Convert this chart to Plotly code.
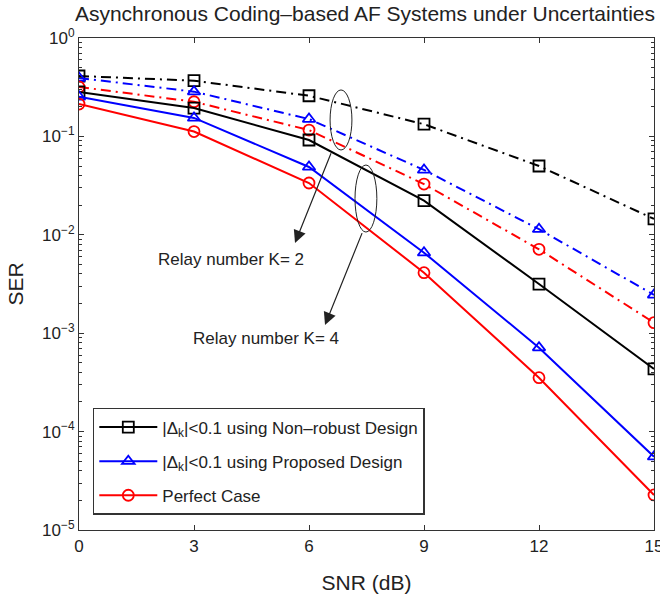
import plotly.graph_objects as go

snr = [0, 3, 6, 9, 12, 15]

# K = 2 (dash-dot)
k2_nonrobust = [0.411, 0.368, 0.259, 0.133, 0.050, 0.0145]
k2_proposed = [0.392, 0.285, 0.150, 0.0456, 0.0114, 0.00245]
k2_perfect = [0.318, 0.225, 0.116, 0.0328, 0.00712, 0.00128]

# K = 4 (solid)
k4_nonrobust = [0.283, 0.194, 0.0919, 0.0222, 0.00316, 0.000433]
k4_proposed = [0.253, 0.154, 0.0489, 0.00658, 0.000713, 0.0000556]
k4_perfect = [0.213, 0.112, 0.0336, 0.00412, 0.000353, 0.0000227]

labels = ["|Δ<sub>k</sub>|<0.1 using Non–robust Design",
          "|Δ<sub>k</sub>|<0.1 using Proposed Design",
          "Perfect Case"]
colors = ["#000000", "#0000ff", "#ff0000"]
symbols = ["square-open", "triangle-up-open", "circle-open"]

x_ticks = [0, 3, 6, 9, 12, 15]
y_tickvals = [1e-5, 1e-4, 1e-3, 1e-2, 1e-1, 1e0]
y_ticktext = ["10<sup>−5</sup>", "10<sup>−4</sup>", "10<sup>−3</sup>",
              "10<sup>−2</sup>", "10<sup>−1</sup>", "10<sup>0</sup>"]

title_text = "Asynchronous Coding–based AF Systems under Uncertainties"
ann1 = "Relay number K= 2"
ann2 = "Relay number K= 4"

FONT = "Liberation Sans, Arial, sans-serif"
DASHDOT = "10px,5px,2px,5px"

fig = go.Figure()

for i, ys in enumerate([k2_nonrobust, k2_proposed, k2_perfect]):
    fig.add_trace(go.Scatter(
        x=snr, y=ys, mode="lines+markers", showlegend=False,
        line=dict(color=colors[i], width=2, dash=DASHDOT),
        marker=dict(symbol=symbols[i], size=11, color=colors[i],
                    line=dict(width=1.8, color=colors[i])),
    ))

for i, ys in enumerate([k4_nonrobust, k4_proposed, k4_perfect]):
    fig.add_trace(go.Scatter(
        x=snr, y=ys, mode="lines+markers", name=labels[i],
        legendgroup=f"g{i}",
        line=dict(color=colors[i], width=2),
        marker=dict(symbol=symbols[i], size=11, color=colors[i],
                    line=dict(width=1.8, color=colors[i])),
    ))

minor_vals = []
for e in range(-5, 0):
    for m in range(2, 10):
        minor_vals.append(m * 10 ** e)

fig.update_layout(
    width=660, height=601,
    margin=dict(l=79, r=6, t=38, b=71, autoexpand=False),
    paper_bgcolor="white", plot_bgcolor="white",
    font=dict(family=FONT, size=17, color="#222"),
    title=dict(text=title_text, x=0.553, xanchor="center", y=0.978,
               yanchor="middle", font=dict(size=21, family=FONT, color="#222")),
    legend=dict(x=0.024, y=0.248, xanchor="left", yanchor="top",
                bgcolor="white", bordercolor="#333", borderwidth=1.5,
                font=dict(size=17, family=FONT, color="#222"),
                itemwidth=58,
                traceorder="grouped", tracegroupgap=9),
    xaxis=dict(range=[0, 15], tickvals=x_ticks, ticks="inside", ticklen=5,
               showgrid=False, zeroline=False, showline=True, linecolor="#333",
               linewidth=1.2, mirror="ticks", tickcolor="#333", automargin=False,
               tickfont=dict(size=17), ticklabeloverflow="allow",
               title=dict(text="SNR (dB)", font=dict(size=21), standoff=20)),
    yaxis=dict(type="log", range=[-5, 0], tickvals=y_tickvals, ticktext=y_ticktext,
               ticks="inside", ticklen=5, showgrid=False, zeroline=False,
               showline=True, linecolor="#333", linewidth=1.2, mirror="ticks",
               tickcolor="#333", tickfont=dict(size=17), automargin=False,
               minor=dict(tickvals=minor_vals, ticks="inside", ticklen=3,
                          tickcolor="#333", showgrid=False),
               title=dict(text="SER", font=dict(size=21), standoff=12)),
)

# ellipses (grouping markers)
fig.add_shape(type="circle", xref="x", yref="y", x0=6.55, x1=7.12,
              y0=10 ** -1.138, y1=10 ** -0.528, line=dict(color="#222", width=1))
fig.add_shape(type="circle", xref="x", yref="y", x0=7.20, x1=7.77,
              y0=10 ** -1.972, y1=10 ** -1.291, line=dict(color="#222", width=1))

# arrows
fig.add_annotation(x=5.635, y=-2.083, ax=6.59, ay=-1.156, xref="x", yref="y",
                   axref="x", ayref="y", showarrow=True, arrowhead=2,
                   arrowsize=2.1, arrowwidth=1.2, arrowcolor="#222", text="")
fig.add_annotation(x=6.418, y=-2.917, ax=7.40, ay=-1.968, xref="x", yref="y",
                   axref="x", ayref="y", showarrow=True, arrowhead=2,
                   arrowsize=2.1, arrowwidth=1.2, arrowcolor="#222", text="")

fig.add_annotation(x=3.97, y=-2.256, xref="x", yref="y", text=ann1,
                   showarrow=False, font=dict(size=17, color="#222"))
fig.add_annotation(x=4.88, y=-3.049, xref="x", yref="y", text=ann2,
                   showarrow=False, font=dict(size=17, color="#222"))

fig.write_html("out.html")
